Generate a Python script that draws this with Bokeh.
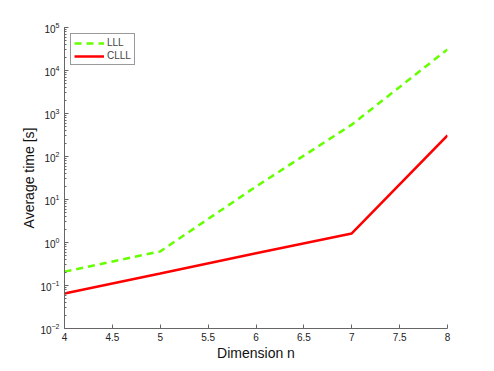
from bokeh.plotting import figure
from bokeh.embed import file_html
from bokeh.resources import INLINE
from bokeh.models import FixedTicker, Range1d, Legend, LegendItem

n = [4, 5, 6, 7, 8]
lll = [0.21, 0.62, 20, 550, 31000]
clll = [0.065, 0.19, 0.56, 1.62, 310]
x_ticks = [4, 4.5, 5, 5.5, 6, 6.5, 7, 7.5, 8]

p = figure(width=486, height=363, y_axis_type="log", output_backend="svg",
           toolbar_location=None, x_range=Range1d(4, 8), y_range=Range1d(1e-2, 1e5),
           min_border_left=64, min_border_right=39, min_border_top=27, min_border_bottom=31)
p.outline_line_color = None
p.grid.visible = False
p.background_fill_color = "white"
p.border_fill_color = "white"

r1 = p.line(n, lll, line_color="#66ff00", line_width=2.5, line_dash="7 5")
r2 = p.line(n, clll, line_color="#ff0000", line_width=2.5)

font = "Liberation Sans"
for ax in [p.xaxis[0], p.yaxis[0]]:
    ax.axis_line_color = "#666666"
    ax.major_tick_line_color = "#666666"
    ax.minor_tick_line_color = "#666666"
    ax.major_tick_in = 4
    ax.major_tick_out = 0
    ax.minor_tick_in = 2
    ax.minor_tick_out = 0
    ax.major_label_text_font = font
    ax.major_label_text_font_size = "10px"
    ax.major_label_text_color = "#222222"
    ax.axis_label_text_font = font
    ax.axis_label_text_font_size = "14px"
    ax.axis_label_text_font_style = "normal"
    ax.axis_label_text_color = "#111111"

p.xaxis.ticker = FixedTicker(ticks=x_ticks, minor_ticks=[])
p.yaxis.ticker.desired_num_ticks = 8
p.yaxis[0].ticker.num_minor_ticks = 10
p.xaxis.axis_label = "Dimension n"
p.yaxis.axis_label = "Average time [s]"
p.xaxis.axis_label_standoff = 1
p.yaxis.axis_label_standoff = 0
p.xaxis.major_label_standoff = 4
p.yaxis.major_label_standoff = 5

legend = Legend(items=[LegendItem(label="LLL", renderers=[r1]),
                       LegendItem(label="CLLL", renderers=[r2])],
                location="top_left")
legend.label_text_font = font
legend.label_text_font_size = "10px"
legend.border_line_color = "#333333"
legend.border_line_width = 1
legend.glyph_width = 30
legend.glyph_height = 10
legend.spacing = 2
legend.padding = 3
legend.margin = 6
legend.label_standoff = 3
legend.label_height = 10
p.add_layout(legend)

open("out.html", "w").write(file_html(p, INLINE))
